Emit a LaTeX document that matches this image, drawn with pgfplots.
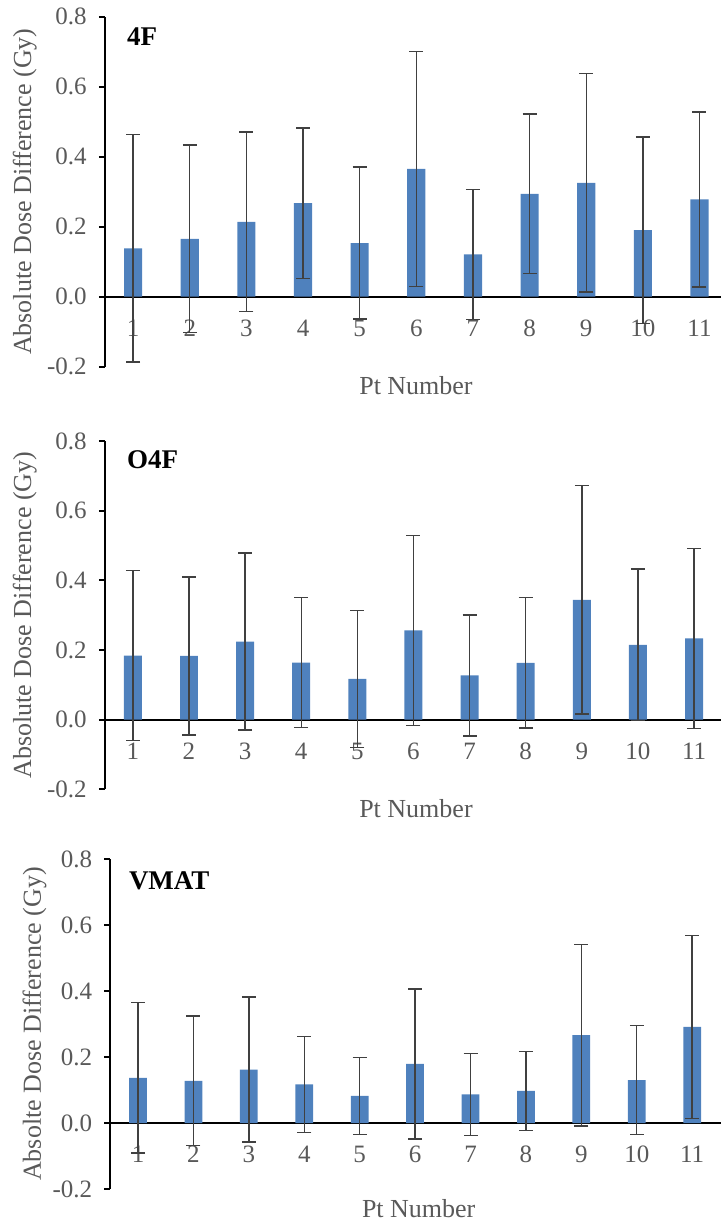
\documentclass[border=0pt]{standalone}
\usepackage{pgfplots}
\pgfplotsset{compat=1.18}
\usepackage{pgfplotstable}
\usepackage{fontspec}
\setmainfont{Liberation Serif}
\definecolor{barblue}{RGB}{79,129,189}
\definecolor{txtgray}{RGB}{89,89,89}
\definecolor{errgray}{RGB}{64,64,64}

\pgfplotstableread{
x y err
1 0.138 0.325
2 0.165 0.268
3 0.214 0.257
4 0.267 0.215
5 0.153 0.217
6 0.365 0.336
7 0.121 0.186
8 0.294 0.228
9 0.325 0.312
10 0.190 0.266
11 0.278 0.250
}\tabA
\pgfplotstableread{
x y err
1 0.184 0.244
2 0.183 0.227
3 0.224 0.254
4 0.164 0.187
5 0.117 0.197
6 0.256 0.272
7 0.127 0.174
8 0.163 0.187
9 0.344 0.328
10 0.215 0.218
11 0.233 0.258
}\tabB
\pgfplotstableread{
x y err
1 0.137 0.228
2 0.128 0.196
3 0.162 0.220
4 0.117 0.146
5 0.082 0.117
6 0.179 0.227
7 0.087 0.124
8 0.097 0.120
9 0.266 0.275
10 0.130 0.165
11 0.291 0.278
}\tabC

\pgfplotsset{
  panel/.style={
    scale only axis,
    anchor=south west,
    axis x line=middle,
    axis y line=left,
    axis line style={-, black, line width=1pt},
    hide obscured x ticks=false,
    hide obscured y ticks=false,
    ymin=-0.2, ymax=0.8,
    xmin=0.5,
    ytick={-0.2,0,0.2,0.4,0.6,0.8},
    yticklabels={-0.2,0.0,0.2,0.4,0.6,0.8},
    xtick={1,...,11},
    xticklabels={1,2,3,4,5,6,7,8,9,10,11},
    yticklabel style={font=\fontsize{12.5}{14}\selectfont, text=txtgray, xshift=-2.5pt},
    xticklabel style={font=\fontsize{12.5}{14}\selectfont, text=txtgray, yshift=-5pt},
    x tick style={draw=none},
    y tick style={black, line width=1pt},
    tick align=outside,
    major tick length=3pt,
    xlabel={Pt Number},
    xlabel style={at={(axis description cs:0.505,0)}, anchor=north, yshift=-1.5pt, font=\fontsize{13}{15}\selectfont, text=txtgray},
    ylabel style={font=\fontsize{13}{15}\selectfont, text=txtgray, anchor=center},
    clip=false,
  },
  barplot/.style={
    ybar, bar width=0.32, fill=barblue, draw=none,
    error bars/.cd, y dir=both, y explicit,
    error bar style={color=errgray, line width=0.7pt},
    error mark options={rotate=90, mark size=3.5pt, line width=0.7pt, color=errgray},
  },
}

\begin{document}
\begin{tikzpicture}
\useasboundingbox (0,0) rectangle (360.5pt,611pt);

\begin{axis}[panel, at={(52.4pt,427.65pt)}, width=308.1pt, height=175pt, xmax=11.38,
  ylabel={Absolute Dose Difference (Gy)},
  ylabel style={at={(axis description cs:-0.13,0.5)}}]
\addplot[barplot] table[x=x, y=y, y error=err]{\tabA};
\node[anchor=west, font=\fontsize{13.5}{15}\selectfont\bfseries] at (axis cs:0.77,0.743) {4F};
\end{axis}

\begin{axis}[panel, at={(52.4pt,216.35pt)}, width=308.1pt, height=174.15pt, xmax=11.48,
  ylabel={Absolute Dose Difference (Gy)},
  ylabel style={at={(axis description cs:-0.13,0.5)}}]
\addplot[barplot] table[x=x, y=y, y error=err]{\tabB};
\node[anchor=west, font=\fontsize{13.5}{15}\selectfont\bfseries] at (axis cs:0.77,0.745) {O4F};
\end{axis}

\begin{axis}[panel, at={(55.15pt,16.5pt)}, width=305.35pt, height=165pt, xmax=11.52,
  ylabel={Absolte Dose Difference (Gy)},
  ylabel style={at={(axis description cs:-0.124,0.5)}}]
\addplot[barplot] table[x=x, y=y, y error=err]{\tabC};
\node[anchor=west, font=\fontsize{13.5}{15}\selectfont\bfseries] at (axis cs:0.71,0.734) {VMAT};
\end{axis}
\end{tikzpicture}
\end{document}
